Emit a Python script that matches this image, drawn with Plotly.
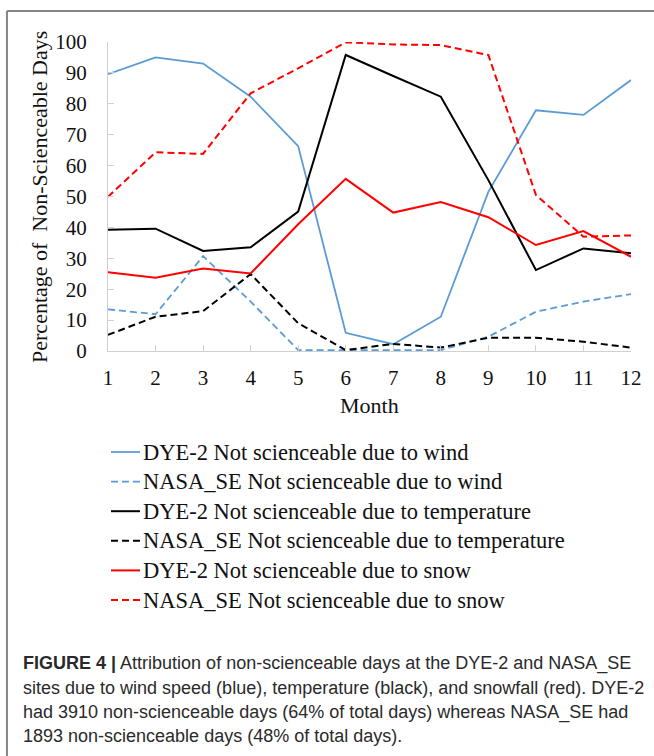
import plotly.graph_objects as go

months = list(range(1, 13))
dye2_wind = [89.6, 95.0, 93.0, 82.3, 66.3, 5.9, 2.2, 11.1, 51.5, 77.9, 76.4, 87.7]
nasa_wind = [13.5, 11.9, 30.7, 16.0, 0.3, 0.3, 0.3, 0.3, 4.6, 12.7, 16.0, 18.4]
dye2_temp = [39.2, 39.6, 32.4, 33.6, 45.1, 95.8, 89.0, 82.3, 55.3, 26.2, 33.2, 31.6]
nasa_temp = [5.2, 11.1, 12.9, 24.9, 9.0, 0.3, 2.3, 1.1, 4.3, 4.3, 3.0, 1.1]
dye2_snow = [25.5, 23.7, 26.7, 25.1, 41.0, 55.7, 44.8, 48.2, 43.3, 34.3, 38.8, 30.5]
nasa_snow = [49.9, 64.3, 63.8, 83.4, 91.5, 99.9, 99.2, 99.0, 95.8, 50.5, 37.0, 37.4]

series_names = [
    "DYE-2 Not scienceable due to wind",
    "NASA_SE Not scienceable due to wind",
    "DYE-2 Not scienceable due to temperature",
    "NASA_SE Not scienceable due to temperature",
    "DYE-2 Not scienceable due to snow",
    "NASA_SE Not scienceable due to snow",
]
series_values = [dye2_wind, nasa_wind, dye2_temp, nasa_temp, dye2_snow, nasa_snow]
colors = ["#5B9BD5", "#5B9BD5", "#000000", "#000000", "#FF0000", "#FF0000"]
dashes = ["solid", "7px,4px", "solid", "7px,4px", "solid", "7px,4px"]
widths = [1.8, 1.8, 2, 2, 2, 2]

caption_lines = [
    "<b>FIGURE 4 |</b> Attribution of non-scienceable days at the DYE-2 and NASA_SE",
    "sites due to wind speed (blue), temperature (black), and snowfall (red). DYE-2",
    "had 3910 non-scienceable days (64% of total days) whereas NASA_SE had",
    "1893 non-scienceable days (48% of total days).",
]

W, H = 654, 756
L, R, T, B = 108, 630.7, 42, 351
PW, PH = R - L, B - T


def px(x):
    return (x - L) / PW


def py(y):
    return (B - y) / PH


fig = go.Figure()
for name, vals, c, d, w in zip(series_names, series_values, colors, dashes, widths):
    fig.add_trace(go.Scatter(x=months, y=vals, mode="lines", name=name, showlegend=False,
                             line=dict(color=c, dash=d, width=w)))

serif = "Liberation Serif, Times New Roman, serif"
axis_common = dict(showline=True, linecolor="#d0d0d0", linewidth=1, ticks="inside",
                   ticklen=6, tickcolor="#d0d0d0", showgrid=False, zeroline=False,
                   tickfont=dict(family=serif, size=21, color="#111"))
fig.update_xaxes(range=[1, 12], tickvals=months, ticklabelstandoff=8, **axis_common)
fig.update_yaxes(range=[0, 100], dtick=10, ticklabelstandoff=16, **axis_common)

annotations = [
    dict(text="Percentage of\u00a0 Non-Scienceable Days", textangle=-90, x=px(40), y=py(197),
         xref="paper", yref="paper", showarrow=False, xanchor="center", yanchor="middle",
         font=dict(family=serif, size=22, color="#111")),
    dict(text="Month", x=0.5, y=py(405), xref="paper", yref="paper", showarrow=False,
         xanchor="center", yanchor="middle", font=dict(family=serif, size=22, color="#111")),
]
shapes = []

# manual legend
leg_y0, leg_dy = 452, 29.6
for i, (name, c, d, w) in enumerate(zip(series_names, colors, dashes, widths)):
    yy = leg_y0 + i * leg_dy
    shapes.append(dict(type="line", xref="paper", yref="paper", x0=px(111), x1=px(140),
                       y0=py(yy), y1=py(yy), line=dict(color=c, dash=d, width=w)))
    annotations.append(dict(text=name, x=px(141), y=py(yy), xref="paper", yref="paper",
                            showarrow=False, xanchor="left", yanchor="middle",
                            font=dict(family=serif, size=22.5, color="#111")))

cap_y = [663, 688, 712, 736]
for t, yy in zip(caption_lines, cap_y):
    annotations.append(dict(text=t, x=px(21), y=py(yy), xref="paper", yref="paper",
                            showarrow=False, xanchor="left", yanchor="middle", align="left",
                            font=dict(family="Liberation Sans, Arial, sans-serif", size=18,
                                      color="#2a2a2a")))

shapes += [
    dict(type="line", xref="paper", yref="paper", x0=px(7), x1=px(W), y0=py(11), y1=py(11),
         line=dict(color="#858585", width=2)),
    dict(type="line", xref="paper", yref="paper", x0=px(7), x1=px(7), y0=py(11), y1=py(H),
         line=dict(color="#858585", width=2)),
]

fig.update_layout(
    width=W, height=H, margin=dict(l=L, r=W - R, t=T, b=H - B),
    paper_bgcolor="white", plot_bgcolor="white",
    showlegend=False,
    annotations=annotations, shapes=shapes,
)

fig.write_html("out.html")
